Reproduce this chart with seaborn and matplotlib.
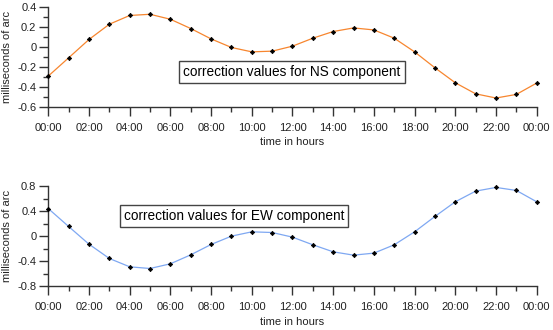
import matplotlib
matplotlib.use("Agg")
import matplotlib.pyplot as plt
from matplotlib.ticker import MultipleLocator, FixedLocator, FuncFormatter
import seaborn as sns
import pandas as pd

# hourly correction values (milliseconds of arc)
hours = list(range(25))
ns_values = [-0.29, -0.107, 0.077, 0.23, 0.318, 0.33, 0.28, 0.187, 0.083, -0.003,
             -0.047, -0.04, 0.01, 0.09, 0.157, 0.193, 0.173, 0.09, -0.047, -0.207,
             -0.357, -0.468, -0.51, -0.474, -0.36]
ew_values = [0.44, 0.154, -0.128, -0.356, -0.489, -0.516, -0.441, -0.298, -0.133, 0.0,
             0.069, 0.058, -0.016, -0.138, -0.25, -0.303, -0.271, -0.138, 0.069, 0.314,
             0.548, 0.718, 0.777, 0.729, 0.548]
hour_labels = ["%02d:00" % (h % 24) for h in range(0, 25, 2)]

ns_title = "correction values for NS component"
ew_title = "correction values for EW component"

sns.set_theme(style="white")
plt.rcParams["font.family"] = ["Liberation Sans", "DejaVu Sans"]

fig = plt.figure(figsize=(5.53, 3.30), dpi=100)
ax1 = fig.add_axes([0.0873, 0.6758, 0.8832, 0.3021])
ax2 = fig.add_axes([0.0873, 0.1324, 0.8832, 0.3040])

df = pd.DataFrame({"hour": hours, "NS": ns_values, "EW": ew_values})

panels = [
    (ax1, "NS", "#f7862f", (-0.6, 0.4), 0.2, 0.1, ns_title, (11.97, -0.25)),
    (ax2, "EW", "#7fa8f2", (-0.8, 0.8), 0.4, 0.2, ew_title, (9.13, 0.32)),
]

spine_col = "#333333"
text_col = "#222222"
for ax, col, color, ylim, major, minor, title, pos in panels:
    sns.lineplot(data=df, x="hour", y=col, ax=ax, color=color, linewidth=0.9)
    sns.scatterplot(data=df, x="hour", y=col, ax=ax, color="black", marker="D",
                    s=5, linewidth=0.5, edgecolor="black", zorder=5, clip_on=False)
    ax.set_xlim(0, 24)
    ax.set_ylim(*ylim)
    ax.xaxis.set_major_locator(FixedLocator(list(range(0, 25, 2))))
    ax.xaxis.set_minor_locator(MultipleLocator(1))
    ax.set_xticklabels(hour_labels)
    ax.yaxis.set_major_locator(MultipleLocator(major))
    ax.yaxis.set_minor_locator(MultipleLocator(minor))
    ax.yaxis.set_major_formatter(FuncFormatter(
        lambda v, p: "0" if abs(v) < 1e-9 else ("%.1f" % v)))
    for s in ("top", "right"):
        ax.spines[s].set_visible(False)
    for s in ("left", "bottom"):
        ax.spines[s].set_color(spine_col)
        ax.spines[s].set_linewidth(1.0)
    ax.tick_params(axis="both", which="major", direction="out", length=6.5,
                   width=1.0, color=spine_col, labelsize=8, labelcolor=text_col)
    ax.tick_params(axis="both", which="minor", direction="out", length=3.5,
                   width=1.0, color=spine_col)
    ax.tick_params(axis="x", which="major", pad=5)
    ax.tick_params(axis="y", which="major", pad=2)
    ax.tick_params(axis="x", which="both", bottom=True)
    ax.tick_params(axis="y", which="both", left=True)
    ax.set_xlabel("time in hours", fontsize=8, color=text_col)
    ax.xaxis.set_label_coords(0.5, -0.305)
    ax.set_ylabel("milliseconds of arc", fontsize=8, color=text_col)
    ax.yaxis.set_label_coords(-0.075, 0.5)
    ax.text(pos[0], pos[1], title, fontsize=9.8, color="black",
            ha="center", va="center",
            bbox=dict(boxstyle="square,pad=0.3", facecolor="white",
                      edgecolor="#444444", linewidth=1.0))
    ax.set_facecolor("white")

fig.savefig("out.png", dpi=100, facecolor="white")
